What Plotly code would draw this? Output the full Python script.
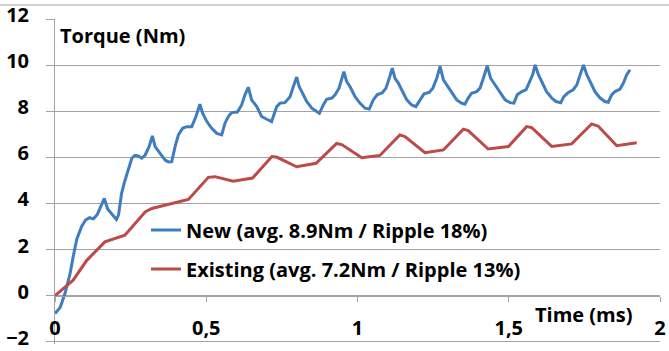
import plotly.graph_objects as go

# Torque transient: new vs existing motor design
t_new = [0.000, 0.017, 0.033, 0.050, 0.060, 0.072, 0.088, 0.101, 0.114, 0.127,
         0.140, 0.149, 0.163, 0.174, 0.187, 0.203, 0.210, 0.220, 0.230, 0.242,
         0.254, 0.264, 0.275, 0.287, 0.298, 0.311, 0.322, 0.331, 0.341, 0.353,
         0.364, 0.375, 0.386, 0.397, 0.408, 0.422, 0.435, 0.452, 0.466, 0.479,
         0.488, 0.502, 0.518, 0.535, 0.551, 0.562, 0.573, 0.584, 0.603, 0.617,
         0.628, 0.639, 0.650, 0.667, 0.683, 0.700, 0.716, 0.733, 0.744, 0.760,
         0.777, 0.788, 0.799, 0.807, 0.817, 0.832, 0.849, 0.865, 0.874, 0.887,
         0.898, 0.915, 0.926, 0.939, 0.955, 0.964, 0.975, 0.992, 1.008, 1.025,
         1.039, 1.052, 1.065, 1.083, 1.094, 1.105, 1.115, 1.124, 1.135, 1.146,
         1.163, 1.179, 1.193, 1.207, 1.220, 1.237, 1.249, 1.262, 1.273, 1.284,
         1.295, 1.311, 1.328, 1.344, 1.355, 1.366, 1.377, 1.394, 1.405, 1.416,
         1.429, 1.440, 1.455, 1.471, 1.488, 1.504, 1.517, 1.528, 1.543, 1.557,
         1.568, 1.579, 1.587, 1.598, 1.609, 1.625, 1.642, 1.656, 1.672, 1.682,
         1.697, 1.713, 1.725, 1.736, 1.747, 1.758, 1.769, 1.785, 1.802, 1.818,
         1.829, 1.840, 1.851, 1.868, 1.879, 1.890, 1.901]
torque_new = [-0.78, -0.52, 0.09, 0.96, 1.68, 2.45, 3.00, 3.28, 3.38, 3.33,
              3.52, 3.80, 4.22, 3.76, 3.55, 3.30, 3.50, 4.43, 4.94, 5.45,
              5.96, 6.08, 6.06, 5.96, 6.10, 6.46, 6.93, 6.46, 6.29, 6.06,
              5.88, 5.80, 5.81, 6.46, 6.97, 7.26, 7.33, 7.33, 7.77, 8.30,
              7.91, 7.55, 7.26, 7.04, 6.97, 7.48, 7.77, 7.94, 7.96, 8.27,
              8.71, 9.04, 8.49, 8.20, 7.77, 7.65, 7.55, 8.20, 8.35, 8.37,
              8.63, 9.07, 9.48, 9.07, 8.78, 8.42, 8.13, 7.98, 7.91, 8.27,
              8.52, 8.57, 8.71, 9.00, 9.72, 9.29, 9.07, 8.63, 8.35, 8.13,
              8.09, 8.49, 8.71, 8.81, 9.00, 9.43, 9.87, 9.43, 9.22, 8.93,
              8.49, 8.27, 8.20, 8.49, 8.75, 8.81, 9.00, 9.43, 9.94, 9.36,
              9.14, 8.78, 8.49, 8.35, 8.30, 8.57, 8.78, 8.85, 9.00, 9.43,
              9.97, 9.43, 9.14, 8.78, 8.49, 8.37, 8.35, 8.71, 8.85, 8.93,
              9.22, 9.58, 10.01, 9.58, 9.29, 8.85, 8.57, 8.42, 8.37, 8.63,
              8.81, 8.93, 9.14, 9.58, 10.01, 9.58, 9.29, 8.85, 8.57, 8.42,
              8.39, 8.71, 8.85, 8.96, 9.22, 9.58, 9.80]

t_existing = [0.000, 0.060, 0.105, 0.165, 0.231, 0.298, 0.320, 0.380, 0.441, 0.507,
              0.529, 0.589, 0.653, 0.717, 0.734, 0.799, 0.863, 0.931, 0.948, 1.014,
              1.074, 1.140, 1.157, 1.223, 1.284, 1.350, 1.366, 1.432, 1.499, 1.559,
              1.576, 1.642, 1.708, 1.774, 1.796, 1.857, 1.923]
torque_existing = [0.00, 0.67, 1.53, 2.33, 2.62, 3.63, 3.78, 3.97, 4.17, 5.13,
                   5.16, 4.96, 5.10, 6.03, 6.00, 5.59, 5.74, 6.60, 6.55, 5.98,
                   6.08, 6.97, 6.90, 6.20, 6.32, 7.22, 7.16, 6.36, 6.47, 7.33,
                   7.29, 6.47, 6.58, 7.45, 7.35, 6.50, 6.63]

series_names = ["New (avg. 8.9Nm / Ripple 18%)",
                "Existing (avg. 7.2Nm / Ripple 13%)"]

x_tick_vals = [0, 0.5, 1, 1.5, 2]
x_tick_text = ["0", "0,5", "1", "1,5", "2"]
y_tick_vals = [-2, 0, 2, 4, 6, 8, 10, 12]

FONT = "Open Sans"
FS = 20
GRID = "#a3a3a3"
BLUE = "#3f7dbf"
RED = "#be4a47"

Y_MIN, Y_MAX = -2.1, 12.0
# plot area in pixels: top 19, bottom 344
PLOT_TOP, PLOT_BOTTOM = 19, 344
PLOT_H = PLOT_BOTTOM - PLOT_TOP


def ypaper(px):
    return (PLOT_BOTTOM - px) / PLOT_H


bold = dict(family=FONT, size=FS, color="black", weight="bold")

fig = go.Figure()
fig.add_trace(go.Scatter(x=t_new, y=torque_new, mode="lines", name=series_names[0],
                         legendgroup="a",
                         line=dict(color=BLUE, width=3)))
fig.add_trace(go.Scatter(x=t_existing, y=torque_existing, mode="lines", name=series_names[1],
                         legendgroup="b",
                         line=dict(color=RED, width=3)))

fig.update_layout(
    width=669, height=351,
    margin=dict(l=55, r=9, t=PLOT_TOP, b=351 - PLOT_BOTTOM),
    plot_bgcolor="white", paper_bgcolor="white",
    font=bold,
    showlegend=True,
    legend=dict(x=(146 - 55) / 605, y=ypaper(249.5), xanchor="left", yanchor="middle",
                bgcolor="rgba(0,0,0,0)", tracegroupgap=10, font=bold),
    xaxis=dict(range=[0, 2], anchor="free", position=(0 - Y_MIN) / (Y_MAX - Y_MIN),
               automargin=False,
               showline=True, linecolor=GRID, linewidth=1,
               showgrid=False, zeroline=False,
               ticks="outside", ticklen=5, tickcolor=GRID,
               tickvals=x_tick_vals, ticktext=x_tick_text,
               ticklabelstandoff=9, ticklabeloverflow="allow", tickfont=bold),
    yaxis=dict(range=[Y_MIN, Y_MAX], tickvals=y_tick_vals,
               automargin=False,
               showline=True, linecolor=GRID, linewidth=1,
               showgrid=True, gridcolor=GRID, gridwidth=1, zeroline=False,
               ticks="outside", ticklen=8, tickcolor=GRID,
               ticklabelstandoff=13, ticklabelshift=-4,
               ticklabeloverflow="allow", tickfont=bold),
    annotations=[
        dict(text="Torque (Nm)", xref="paper", yref="paper",
             x=3 / 605, y=ypaper(36), xanchor="left", yanchor="middle",
             showarrow=False, font=bold),
        dict(text="Time (ms)", xref="paper", yref="paper",
             x=(533 - 55) / 605, y=ypaper(314), xanchor="left", yanchor="middle",
             showarrow=False, font=bold),
    ],
    shapes=[
        dict(type="line", xref="paper", yref="paper",
             x0=-55 / 605, x1=614 / 605, y0=ypaper(5), y1=ypaper(5),
             line=dict(color=GRID, width=1.2)),
    ],
)

fig.write_html("out.html")
